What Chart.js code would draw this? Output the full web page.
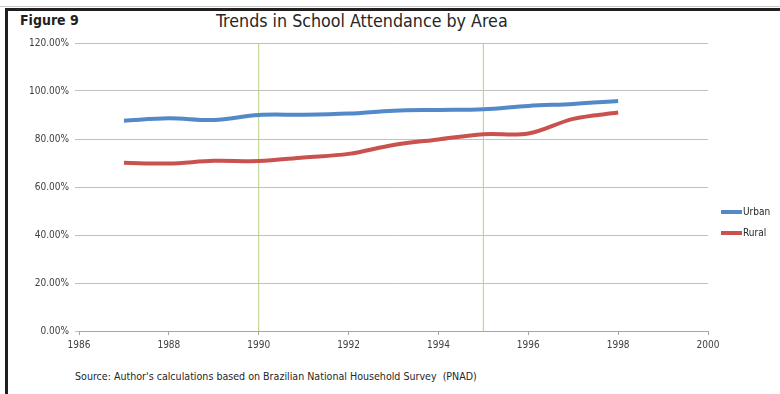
<!DOCTYPE html>
<html>
<head>
<meta charset="utf-8">
<script src="https://cdn.jsdelivr.net/npm/chart.js@4/dist/chart.umd.min.js"></script>
<style>
  body { margin: 0; background: #fff; }
  #wrap { position: relative; width: 780px; height: 394px; overflow: hidden; }
  #frame { position: absolute; left: 5px; top: 8px; width: 780px; height: 400px;
           border-left: 3px solid #231f20; border-top: 3px solid #231f20; }
  #topline { position: absolute; left: 0; top: 6px; width: 780px; height: 1px; background: #c8c8c8; }
  #fig { position: absolute; left: 20px; top: 12px; font: bold 14px "Liberation Sans Narrow", "DejaVu Sans Condensed", sans-serif; color: #231f20; }
  #title { position: absolute; left: 216px; top: 11px; font: 17.7px "Liberation Sans Narrow", "DejaVu Sans Condensed", sans-serif; color: #262626; white-space: nowrap; }
  #source { position: absolute; left: 75px; top: 370px; font: 10.6px "Liberation Sans Narrow", "DejaVu Sans Condensed", sans-serif; color: #262626; white-space: nowrap; }
  canvas { position: absolute; left: 0; top: 0; }
</style>
</head>
<body>
<div id="wrap">
  <div id="topline"></div>
  <div id="frame"></div>
  <div id="fig">Figure 9</div>
  <div id="title">Trends in School Attendance by Area</div>
  <div id="source">Source: Author's calculations based on Brazilian National Household Survey&nbsp; (PNAD)</div>
  <canvas id="chart" width="780" height="394"></canvas>
</div>
<script>
// school attendance (%) by year
var years = [1987, 1988, 1989, 1990, 1991, 1992, 1993, 1994, 1995, 1996, 1997, 1998];
var urban = [87.6, 88.6, 87.9, 90.0, 90.1, 90.6, 91.8, 92.1, 92.4, 93.8, 94.6, 95.8];
var rural = [70.1, 69.8, 70.9, 70.8, 72.3, 73.8, 77.5, 79.8, 82.0, 82.3, 88.4, 91.0];
var markYears = [1990, 1995];
var yTicks = [0, 20, 40, 60, 80, 100, 120];
var xTicks = [1986, 1988, 1990, 1992, 1994, 1996, 1998, 2000];

var font = '"Liberation Sans Narrow", "DejaVu Sans Condensed", sans-serif';

function pts(vals) {
    return years.map(function (y, i) { return { x: y, y: vals[i] }; });
}

var series = [
    { label: 'Urban', data: pts(urban), borderColor: '#5289c8' },
    { label: 'Rural', data: pts(rural), borderColor: '#c9524e' }
];

var datasets = series.map(function (s) {
    return {
        label: s.label, data: s.data, borderColor: s.borderColor,
        borderWidth: 4, pointRadius: 0, tension: 0.35, fill: false, isSeries: true
    };
});
// vertical reference lines
markYears.forEach(function (yr) {
    datasets.push({
        label: '', data: [{ x: yr, y: 0 }, { x: yr, y: 120 }],
        borderColor: '#b8cf85', borderWidth: 1, pointRadius: 0, fill: false
    });
});

// legend drawn to the right of the plot
var sideLegend = {
    id: 'sideLegend',
    afterDraw: function (chart) {
        var ctx = chart.ctx;
        var y = 212;
        ctx.save();
        ctx.font = '10px ' + font;
        ctx.textBaseline = 'middle';
        chart.data.datasets.forEach(function (ds) {
            if (!ds.isSeries) return;
            ctx.fillStyle = ds.borderColor;
            ctx.fillRect(721, y - 2, 21, 4);
            ctx.fillStyle = '#262626';
            ctx.fillText(ds.label, 743, y);
            y += 21;
        });
        ctx.restore();
    }
};

new Chart(document.getElementById('chart'), {
    type: 'line',
    data: { datasets: datasets },
    plugins: [sideLegend],
    options: {
        responsive: false,
        animation: false,
        layout: { padding: { left: 0, right: 72, top: 43, bottom: 43 } },
        plugins: { legend: { display: false }, tooltip: { enabled: false } },
        scales: {
            x: {
                type: 'linear', min: 1986, max: 2000,
                afterFit: function (s) { s.height = 20; },
                afterBuildTicks: function (s) { s.ticks = xTicks.map(function (v) { return { value: v }; }); },
                grid: { drawOnChartArea: false, drawTicks: true, tickLength: 4, color: '#a6a6a6' },
                border: { color: '#a6a6a6' },
                ticks: { color: '#404040', font: { family: font, size: 10 }, padding: 4, maxRotation: 0,
                         callback: function (v) { return String(v); } }
            },
            y: {
                min: 0, max: 120,
                afterFit: function (s) { s.width = 79; },
                afterBuildTicks: function (s) { s.ticks = yTicks.map(function (v) { return { value: v }; }); },
                grid: { color: '#c0c0c0', drawTicks: true, tickLength: 4 },
                border: { display: false },
                ticks: { color: '#404040', font: { family: font, size: 10 }, padding: 6,
                         callback: function (v) { return v.toFixed(2) + '%'; } }
            }
        }
    }
});
</script>
</body>
</html>
